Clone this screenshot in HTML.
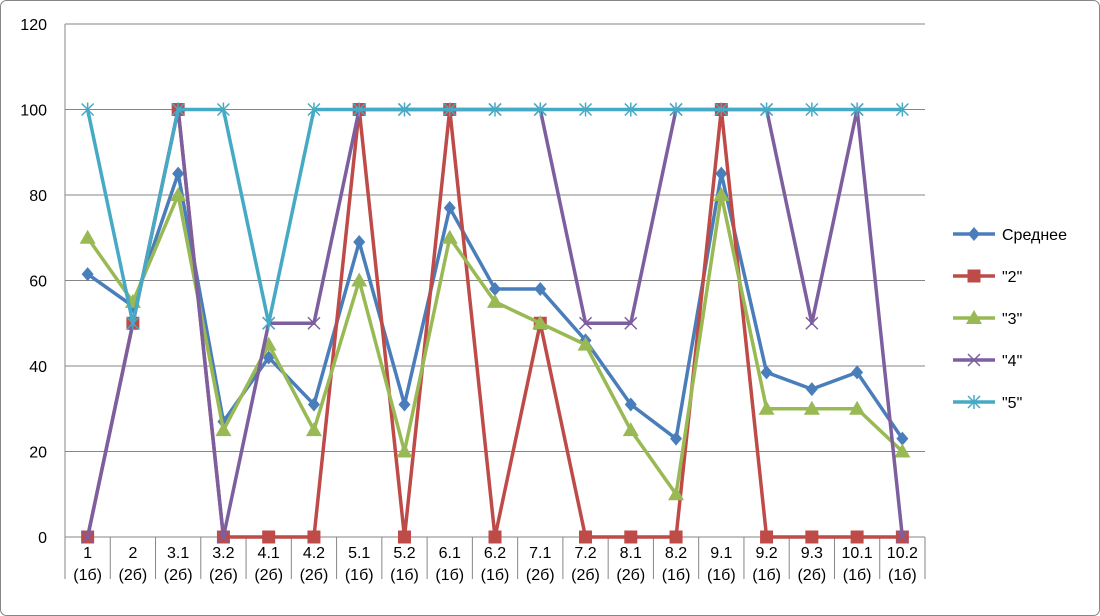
<!DOCTYPE html>
<html><head><meta charset="utf-8">
<style>
html,body{margin:0;padding:0;background:#fff;}
svg{display:block;font-family:"Liberation Sans",sans-serif;}
</style></head>
<body>
<svg id="chart" width="1100" height="616" viewBox="0 0 1100 616">
<rect x="0.5" y="0.5" width="1099" height="615" rx="6" fill="#fff" stroke="#868686"/>
<g id="grid"></g><g id="axes"></g><g id="series"></g><g id="legend"></g>
</svg>
<script>
const categories = ["1|(1б)","2|(2б)","3.1|(2б)","3.2|(2б)","4.1|(2б)","4.2|(2б)","5.1|(1б)","5.2|(1б)","6.1|(1б)","6.2|(1б)","7.1|(2б)","7.2|(2б)","8.1|(2б)","8.2|(1б)","9.1|(1б)","9.2|(1б)","9.3|(2б)","10.1|(1б)","10.2|(1б)"];
const yTicks = [0,20,40,60,80,100,120];
const seriesNames = ["Среднее","\"2\"","\"3\"","\"4\"","\"5\""];
const avgValues = [61.5,54,85,27,42,31,69,31,77,58,58,46,31,23,85,38.5,34.6,38.5,23];
const s2Values = [0,50,100,0,0,0,100,0,100,0,50,0,0,0,100,0,0,0,0];
const s3Values = [70,55,80,25,45,25,60,20,70,55,50,45,25,10,80,30,30,30,20];
const s4Values = [0,50,100,0,50,50,100,100,100,100,100,50,50,100,100,100,50,100,0];
const s5Values = [100,50,100,100,50,100,100,100,100,100,100,100,100,100,100,100,100,100,100];

const NS="http://www.w3.org/2000/svg";
const X0=65,X1=925,Y0=537,Y1=24,YMAX=120;
const bw=(X1-X0)/categories.length;
const xs=i=>X0+bw*(i+0.5);
const ys=v=>Y0-(v/YMAX)*(Y0-Y1);
function mk(tag,attrs,parent){const e=document.createElementNS(NS,tag);for(const k in attrs)e.setAttribute(k,attrs[k]);parent.appendChild(e);return e;}
const grid=document.getElementById('grid'),axes=document.getElementById('axes'),ser=document.getElementById('series'),leg=document.getElementById('legend');
yTicks.forEach(t=>{
  if(t>0){const l=mk('line',{x1:X0,x2:X1,y1:ys(t),y2:ys(t),stroke:'#868686','stroke-width':1},grid);
  
  }
  const tx=mk('text',{x:X0-18,y:ys(t)+6,'text-anchor':'end','font-size':16,fill:'#000'},axes);
  tx.textContent=t;
  
  
});
const ya=mk('line',{x1:X0,x2:X0,y1:Y1,y2:Y0,stroke:'#868686'},axes);


const xa=mk('line',{x1:X0,x2:X1,y1:Y0,y2:Y0,stroke:'#868686'},axes);


for(let i=0;i<=categories.length;i++){
  const x=X0+bw*i;
  const tk=mk('line',{x1:x,x2:x,y1:Y0,y2:Y0+42,stroke:'#868686'},axes);
  
  
}
categories.forEach((c,i)=>{
  const p=c.split('|');
  const t=mk('text',{x:xs(i),y:Y0+21,'text-anchor':'middle','font-size':16,fill:'#000'},axes);
  
  
  mk('tspan',{x:xs(i)},t).textContent=p[0];
  mk('tspan',{x:xs(i),dy:22},t).textContent=p[1];
});
const colors=['#4a7ebb','#be4b48','#98b954','#7d5fa0','#46aac5'];
const allVals=[avgValues,s2Values,s3Values,s4Values,s5Values];
function marker(k,x,y,g){
  const c=colors[k];let m;
  if(k===0)m=mk('polygon',{points:`${x},${y-7} ${x+6},${y} ${x},${y+7} ${x-6},${y}`,fill:c},g);
  else if(k===1)m=mk('rect',{x:x-6.5,y:y-6.5,width:13,height:13,fill:c},g);
  else if(k===2)m=mk('polygon',{points:`${x},${y-8} ${x+8},${y+6} ${x-8},${y+6}`,fill:c},g);
  else if(k===3){m=mk('path',{d:`M${x-6} ${y-6}L${x+6} ${y+6}M${x-6} ${y+6}L${x+6} ${y-6}`,stroke:c,'stroke-width':1.5,fill:'none'},g);}
  else {m=mk('path',{d:`M${x-6} ${y-6}L${x+6} ${y+6}M${x-6} ${y+6}L${x+6} ${y-6}M${x} ${y-7}L${x} ${y+7}`,stroke:c,'stroke-width':1.5,fill:'none'},g);}
  return m;
}
allVals.forEach((vals,k)=>{
  const g=mk('g',{},ser);
  
  
  const pl=mk('polyline',{points:vals.map((v,i)=>xs(i)+','+ys(v)).join(' '),fill:'none',stroke:colors[k],'stroke-width':3.5,'stroke-linejoin':'round'},g);
  
  
  vals.forEach((v,i)=>{
    const m=marker(k,xs(i),ys(v),g);
    
    
  });
});
seriesNames.forEach((n,k)=>{
  const y=234+k*42;
  const g=mk('g',{},leg);
  
  
  mk('line',{x1:953,x2:995,y1:y,y2:y,stroke:colors[k],'stroke-width':3.5},g);
  marker(k,974,y,g);
  const t=mk('text',{x:1002,y:y+6,'font-size':16,fill:'#000'},g);
  t.textContent=n;
});
</script>
</body></html>
